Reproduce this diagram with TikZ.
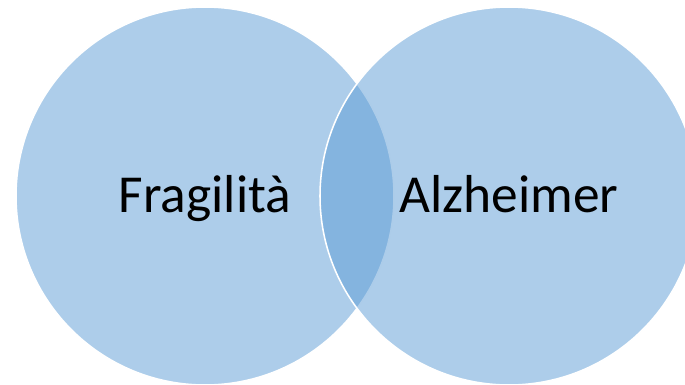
\documentclass[tikz,border=0pt]{standalone}
\usepackage{fontspec}
\setmainfont{Carlito}
\usepackage{tikz}
\usetikzlibrary{positioning}
\definecolor{venn}{HTML}{5B9BD5}

\begin{document}
\begin{tikzpicture}[font=\fontsize{38}{46}\selectfont,
  vennset/.style={draw=white, line width=1.1pt, fill=venn, fill opacity=0.5, circle, inner sep=0pt, minimum size=9.45cm},
  vennlabel/.style={text=black, anchor=base, inner sep=0pt}]
  \useasboundingbox (0,0) rectangle (17.125,9.6);
  \node[vennset] (fragil) at (5.125,4.7) {};
  \node[vennset] (alzh) at (12.725,4.7) {};

  \node[vennlabel] (fragiltxt) at ([yshift=-0.42cm]fragil.center) {Fragilità};
  \node[vennlabel] (alzhtxt) at ([yshift=-0.42cm]alzh.center) {Alzheimer};
\end{tikzpicture}
\end{document}
